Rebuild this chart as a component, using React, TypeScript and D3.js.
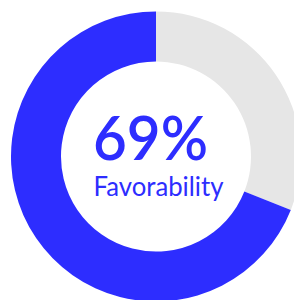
import React from "react";
import * as d3 from "d3";

// slice values (percent) in drawing order, clockwise from 12 o'clock
const segments = ["Unfavorable", "Favorable"];
const shares = [31, 69];
const segmentColors = ["#e6e6e6", "#2d2dff"];
const headline = "69%";
const caption = "Favorability";

const App = () => {
  const width = 294,
    height = 300;
  const cx = 156,
    cy = 156.5;
  const outer = 145,
    inner = 95;

  const pie = d3
    .pie<number>()
    .sort(null)
    .value((d) => d);
  const arcs = pie(shares);
  const arc = d3.arc<d3.PieArcDatum<number>>().innerRadius(inner).outerRadius(outer);

  return (
    <svg
      width={width}
      height={height}
      style={{ position: "absolute", left: 0, top: 0, background: "#fff" }}
    >
      <g transform={`translate(${cx},${cy})`}>
        {arcs.map((a, i) => (
          <path key={segments[i]} d={arc(a) || ""} fill={segmentColors[i]} />
        ))}
      </g>
      <text
        x={150.5}
        y={160}
        textAnchor="middle"
        fill="#2d2dff"
        fontFamily="Lato"
        fontWeight={600}
        fontSize={62}
        textLength={115}
        lengthAdjust="spacingAndGlyphs"
      >
        {headline}
      </text>
      <text
        x={158.5}
        y={196}
        textAnchor="middle"
        fill="#2d2dff"
        fontFamily="Lato"
        fontSize={26}
        textLength={130}
        lengthAdjust="spacingAndGlyphs"
      >
        {caption}
      </text>
    </svg>
  );
};

export default App;
